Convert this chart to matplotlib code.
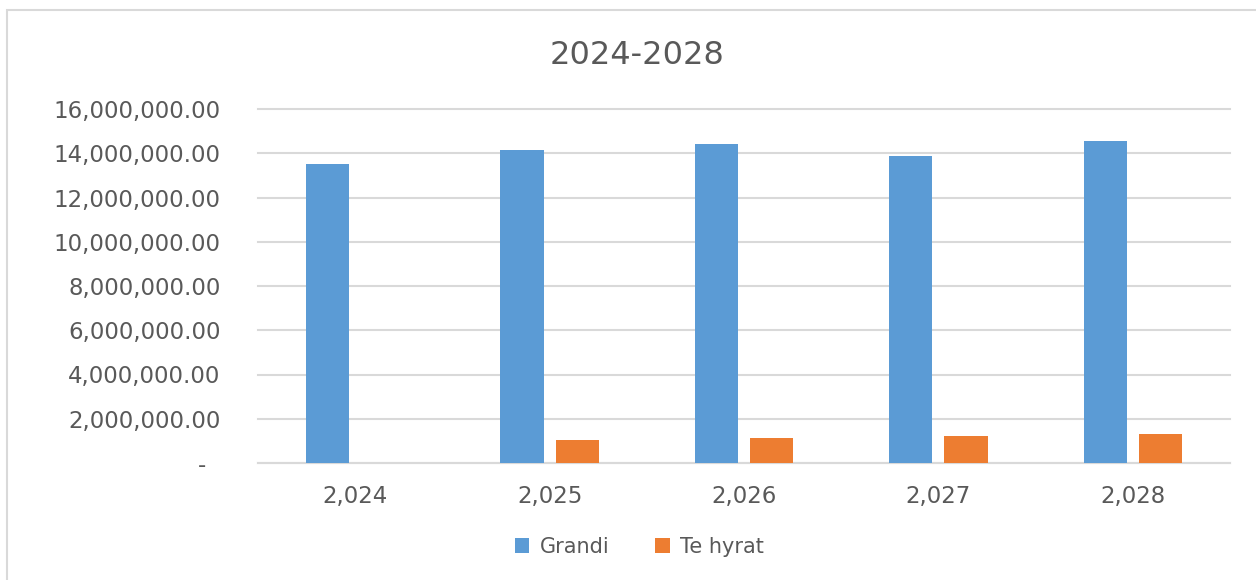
import numpy as np
import matplotlib
matplotlib.use("Agg")
import matplotlib.pyplot as plt
from matplotlib.ticker import FuncFormatter
from matplotlib.patches import Rectangle

# data
years = ["2,024", "2,025", "2,026", "2,027", "2,028"]
grandi = [13530000, 14160000, 14400000, 13880000, 14570000]
te_hyrat = [0, 1020000, 1120000, 1200000, 1320000]

BLUE = "#5B9BD5"
ORANGE = "#ED7D31"
GRID = "#D9D9D9"
TEXT = "#595959"

plt.rcParams['font.family'] = ['DejaVu Sans']

fig = plt.figure(figsize=(12.56, 5.8), dpi=100)
ax = fig.add_axes([258 / 1256, 1 - 463 / 580, 972 / 1256, 354 / 580])

x = np.arange(len(years))
w = 0.222
ax.bar(x - 0.142, grandi, width=w, color=BLUE, label="Grandi", zorder=3)
ax.bar(x + 0.142, te_hyrat, width=w, color=ORANGE, label="Te hyrat", zorder=3)

ax.set_xlim(-0.5, len(years) - 0.5)
ax.set_ylim(0, 16000000)
ax.set_yticks(np.arange(0, 16000001, 2000000))
ax.yaxis.set_major_formatter(FuncFormatter(
    lambda v, p: "-  " if v == 0 else f"{v:,.2f}"))
ax.set_xticks(x)
ax.set_xticklabels(years)

ax.grid(axis="y", color=GRID, linewidth=1.5, zorder=0)
for gl in ax.get_ygridlines():
    gl.set_clip_on(False)
for s in ["top", "right", "left"]:
    ax.spines[s].set_visible(False)
ax.spines["bottom"].set_color(GRID)
ax.spines["bottom"].set_linewidth(1.5)
ax.tick_params(axis="both", length=0, colors=TEXT, labelsize=16.5)
ax.tick_params(axis="y", pad=27)
ax.tick_params(axis="x", pad=16)

fig.text(0.507, 1 - 55 / 580, "2024-2028", ha="center", va="center",
         fontsize=23, color=TEXT)

fig.legend(loc="center", bbox_to_anchor=(0.509, 1 - 547 / 580), ncol=2,
           frameon=False, fontsize=15, labelcolor=TEXT, handlelength=0.7,
           handleheight=0.7, handletextpad=0.5, columnspacing=2.2)

# chart frame
fig.patches.append(Rectangle((7 / 1256, -0.05), 1.1, 1 - 10 / 580 + 0.05,
                             transform=fig.transFigure, fill=False,
                             edgecolor=GRID, linewidth=1.5))

fig.savefig("out.png", dpi=100)
